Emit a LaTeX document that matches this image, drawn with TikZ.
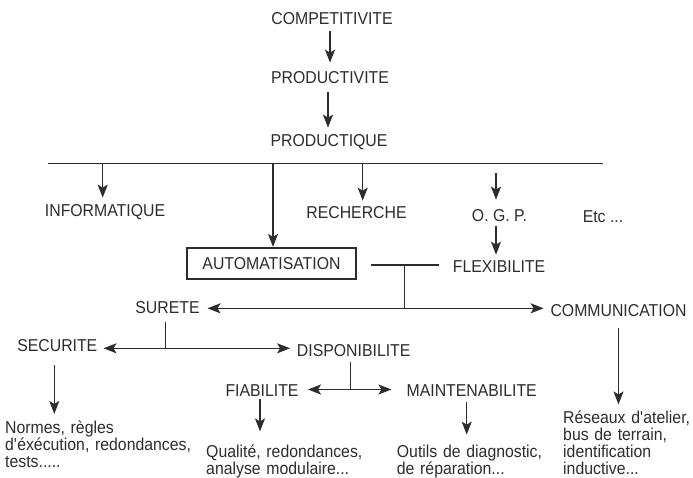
\documentclass[tikz,border=0pt]{standalone}
\usepackage{fontspec}
\setmainfont[FakeStretch=0.92]{Liberation Sans}
\usetikzlibrary{arrows.meta}
\definecolor{ink}{RGB}{45,45,45}
\begin{document}
\begin{tikzpicture}[x=1pt,y=-1pt,
  >={Stealth[length=13pt,width=10pt,inset=3pt]},
  every node/.style={text=ink, inner sep=0pt},
  lbl/.style={font=\fontsize{17.2}{18}\selectfont, text height=12.3pt, text depth=0pt},
  blk/.style={font=\fontsize{17.2}{17.2}\selectfont, text width=200pt, align=left, anchor=base west},
  frame/.style={draw=ink, line width=1.2pt, minimum width=169pt, minimum height=31pt},
  wire/.style={draw=ink, line width=1.4pt},
  arr/.style={wire, ->},
  darr/.style={wire, <->},
]
\path[use as bounding box, fill=white] (0,0) rectangle (693,478);

% main chain
\node[lbl] (comp)  at (332,18.5) {COMPETITIVITE};
\node[lbl] (prod)  at (330,77.5) {PRODUCTIVITE};
\node[lbl] (prodq) at (329,140)  {PRODUCTIQUE};

% branches below the bus
\node[lbl] (inf)  at (105,210)     {INFORMATIQUE};
\node[lbl,frame] (auto) at (271.5,263.5) {AUTOMATISATION};
\node[lbl] (rech) at (356.5,212.5) {RECHERCHE};
\node[lbl] (ogp)  at (499.5,215)   {O. G. P.};
\node[lbl] (etc)  at (603,216)     {Etc ...};
\node[lbl] (flex) at (499,266)     {FLEXIBILITE};

% dependability tree
\node[lbl] (sur)  at (167.5,307.5) {SURETE};
\node[lbl] (comm) at (618.5,310)   {COMMUNICATION};
\node[lbl] (sec)  at (57.3,345.5)  {SECURITE};
\node[lbl] (dis)  at (353.7,350)   {DISPONIBILITE};
\node[lbl] (fia)  at (262,390)     {FIABILITE};
\node[lbl] (mai)  at (471.7,390)   {MAINTENABILITE};

% explanatory notes
\node[blk] (norm) at (5,433.3)     {Normes, règles\\d\textquotesingle éxécution, redondances,\\tests.....};
\node[blk] (qual) at (206,457.3)   {Qualité, redondances,\\analyse modulaire...};
\node[blk] (outi) at (396.7,457.3) {Outils de diagnostic,\\de réparation...};
\node[blk] (rese) at (563,423.3)   {Réseaux d\textquotesingle atelier,\\bus de terrain,\\identification\\inductive...};

% chain arrows
\draw[arr, shorten <=6pt, shorten >=8.5pt] ([xshift=-2pt]comp.south) -- ([xshift=-2pt]comp.south |- prod.north);
\draw[arr, shorten <=8.5pt, shorten >=6pt] ([xshift=-2pt]prod.south) -- ([xshift=-2pt]prod.south |- prodq.north);

% bus and its drops
\coordinate (busL) at (48,163.5);
\coordinate (busR) at (603,163.5);
\draw[wire] (busL) -- (busR);
\draw[arr, shorten >=6pt]   ([xshift=-2.3pt]inf.north |- busL) -- ([xshift=-2.3pt]inf.north);
\draw[arr, shorten >=0.5pt] ([xshift=1.5pt]auto.north |- busL) -- ([xshift=1.5pt]auto.north);
\draw[arr, shorten >=5.5pt] ([xshift=6.2pt]rech.north |- busL) -- ([xshift=6.2pt]rech.north);
\coordinate (ogpin) at (496,173.3);
\draw[arr, shorten >=9pt] (ogpin) -- (ogpin |- ogp.north);
\draw[arr, shorten <=5pt, shorten >=5pt] ([xshift=-3.5pt]ogp.south) -- ([xshift=-3.5pt]ogp.south |- flex.north);

% junction between automation and flexibility
\coordinate (tj) at (404.3,265);
\coordinate (mj) at (404.3,308.3);
\draw[wire] ([xshift=14.7pt]auto.east |- tj) -- ([xshift=-14pt]flex.west |- tj);
\draw[wire] (tj) -- (mj);
\draw[darr, shorten <=7.7pt, shorten >=6.7pt] (sur.east |- mj) -- (comm.west |- mj);

% safety split
\coordinate (sj) at (165.7,348.3);
\draw[wire, shorten <=8pt] (sur.south -| sj) -- (sj);
\draw[darr, shorten <=6pt, shorten >=6.7pt] (sec.east |- sj) -- (dis.west |- sj);

% availability split
\coordinate (dj) at (350.7,389.5);
\draw[wire, shorten <=5.7pt] (dis.south -| dj) -- (dj);
\draw[darr, shorten <=9.3pt, shorten >=15pt] (fia.east |- dj) -- (mai.west |- dj);

% arrows to the notes
\draw[arr, shorten <=13.5pt, shorten >=6.5pt] ([xshift=-3pt]sec.south) -- ([xshift=-3pt]sec.south |- norm.north);
\draw[arr, shorten <=3pt, shorten >=13pt]     ([xshift=-2pt]fia.south) -- ([xshift=-2pt]fia.south |- qual.north);
\draw[arr, shorten <=5.7pt, shorten >=10pt]   ([xshift=-5pt]mai.south) -- ([xshift=-5pt]mai.south |- outi.north);
\draw[arr, shorten <=12pt, shorten >=6pt]     (comm.south) -- (comm.south |- rese.north);
\end{tikzpicture}
\end{document}
